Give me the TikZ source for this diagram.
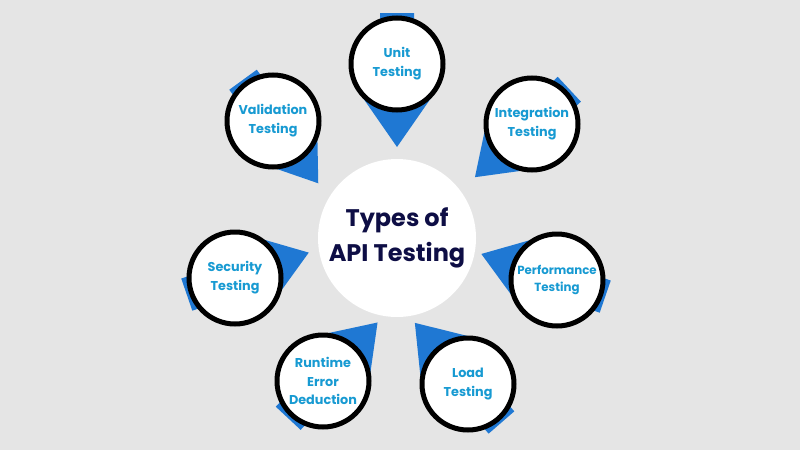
\documentclass[tikz,border=0pt]{standalone}
\usepackage{fontspec}
\setmainfont{Poppins}
\definecolor{backgray}{HTML}{E5E5E5}
\definecolor{pinblue}{HTML}{1F78D3}
\definecolor{topicblue}{HTML}{179AD2}
\definecolor{titlenavy}{HTML}{0E0E45}
\tikzset{
	pinshape/.style={fill=pinblue},
	topic/.style={circle, draw=black, line width=5pt, fill=white, minimum size=92pt,
		inner sep=0pt, align=center, text=topicblue,
		font=\fontsize{12.8}{19}\selectfont\bfseries},
	hub/.style={circle, fill=white, minimum size=158pt, inner sep=0pt, align=center,
		text=titlenavy, font=\fontsize{24}{35}\selectfont\bfseries}
}
\begin{document}
\begin{tikzpicture}[x=1pt, y=-1pt]
	\useasboundingbox (0, 0) rectangle (800, 450);
	\fill[backgray] (0, 0) rectangle (800, 450);
	
	\coordinate (unit) at (397, 64);
	\coordinate (integration) at (532, 124);
	\coordinate (performance) at (557, 280);
	\coordinate (load) at (468, 384);
	\coordinate (runtime) at (323, 381);
	\coordinate (security) at (235, 278);
	\coordinate (validation) at (273, 121);
	\coordinate (centre) at (397, 238);
	
	% pins behind the circles
	\fill[pinshape, shift={(unit)}, rotate=-90] (-51, -17) rectangle (0, 17) (24, -41) -- (83, 0) -- (24, 41) -- cycle;
	\fill[pinshape, shift={(integration)}, rotate=-137] (-51, -17) rectangle (0, 17) (24, -38) -- (78, 0) -- (24, 38) -- cycle;
	\fill[pinshape, shift={(performance)}, rotate=161] (-51, -17) rectangle (0, 17) (24, -39) -- (80, 0) -- (24, 39) -- cycle;
	\fill[pinshape, shift={(load)}, rotate=131] (-51, -17) rectangle (0, 17) (24, -40) -- (81, 0) -- (24, 40) -- cycle;
	\fill[pinshape, shift={(runtime)}, rotate=47] (-51, -17) rectangle (0, 17) (24, -39) -- (80, 0) -- (24, 39) -- cycle;
	\fill[pinshape, shift={(security)}, rotate=19] (-51, -17) rectangle (0, 17) (24, -38) -- (78, 0) -- (24, 38) -- cycle;
	\fill[pinshape, shift={(validation)}, rotate=-54] (-51, -17) rectangle (0, 17) (24, -37) -- (77, 0) -- (24, 37) -- cycle;
	
	\node[hub] (types) at (centre) {Types of\\API Testing};
	\node[topic] (unitnode) at (unit) {Unit\\Testing};
	\node[topic] (integrationnode) at (integration) {Integration\\Testing};
	\node[topic, font=\fontsize{11.8}{17}\selectfont\bfseries] (performancenode) at (performance) {Performance\\Testing};
	\node[topic] (loadnode) at (load) {Load\\Testing};
	\node[topic, font=\fontsize{12.8}{18.5}\selectfont\bfseries] (runtimenode) at (runtime) {Runtime\\Error\\Deduction};
	\node[topic] (securitynode) at (security) {Security\\Testing};
	\node[topic] (validationnode) at (validation) {Validation\\Testing};
\end{tikzpicture}
\end{document}
